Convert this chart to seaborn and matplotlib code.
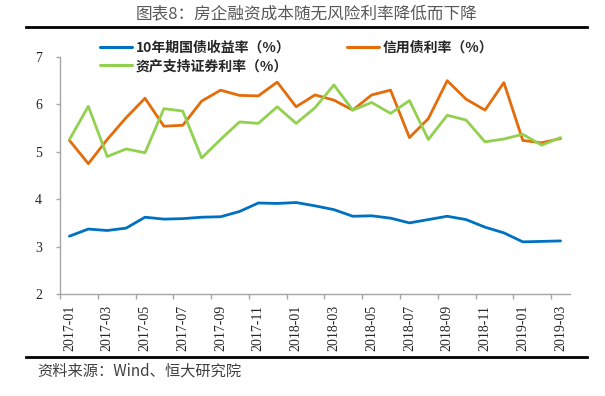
import matplotlib
matplotlib.use("Agg")
import matplotlib.pyplot as plt
import seaborn as sns
from matplotlib.lines import Line2D

# monthly, 2017-01 .. 2019-03
months = [
    "2017-01", "2017-02", "2017-03", "2017-04", "2017-05", "2017-06",
    "2017-07", "2017-08", "2017-09", "2017-10", "2017-11", "2017-12",
    "2018-01", "2018-02", "2018-03", "2018-04", "2018-05", "2018-06",
    "2018-07", "2018-08", "2018-09", "2018-10", "2018-11", "2018-12",
    "2019-01", "2019-02", "2019-03",
]
treasury_10y = [3.22, 3.37, 3.34, 3.39, 3.62, 3.58, 3.59, 3.62, 3.63, 3.74,
                3.92, 3.91, 3.93, 3.86, 3.78, 3.64, 3.65, 3.60, 3.50, 3.57,
                3.64, 3.57, 3.41, 3.29, 3.10, 3.11, 3.12]
credit_bond = [5.24, 4.75, 5.26, 5.72, 6.13, 5.54, 5.56, 6.07, 6.30, 6.19,
               6.18, 6.47, 5.95, 6.20, 6.09, 5.88, 6.20, 6.30, 5.30, 5.70,
               6.50, 6.11, 5.88, 6.46, 5.24, 5.19, 5.28]
abs_rate = [5.26, 5.96, 4.90, 5.06, 4.98, 5.91, 5.86, 4.87, 5.26, 5.63,
            5.60, 5.95, 5.60, 5.93, 6.41, 5.88, 6.04, 5.81, 6.08, 5.26,
            5.77, 5.67, 5.21, 5.27, 5.37, 5.14, 5.30]

labels = ["10年期国债收益率（%）", "信用债利率（%）", "资产支持证券利率（%）"]
colors = ["#0070C0", "#E46C0A", "#92D050"]

sns.set_theme(style="ticks")
plt.rcParams['font.family'] = ['Noto Sans CJK SC', 'DejaVu Sans']

fig = plt.figure(figsize=(6.05, 3.96), dpi=100)

# header / footer rules drawn as the bottom spine of thin empty axes
for y_px in (27, 357):
    rule = fig.add_axes([26 / 605, 1 - y_px / 396, 561 / 605, 1 / 396])
    rule.set_xticks([])
    rule.set_yticks([])
    rule.patch.set_visible(False)
    for s in ["top", "left", "right"]:
        rule.spines[s].set_visible(False)
    rule.spines["bottom"].set_color("black")
    rule.spines["bottom"].set_linewidth(2)

ax = fig.add_axes([60 / 605, 1 - 294 / 396, 510 / 605, 237 / 396])

x = list(range(len(months)))
for series, lab, col in zip([treasury_10y, credit_bond, abs_rate], labels, colors):
    sns.lineplot(x=x, y=series, ax=ax, color=col, linewidth=2.0, label=lab)

ax.set_xlim(-0.5, len(months) - 0.5)
ax.set_ylim(2, 7)

ax.set_xticks(x[::2])
ax.set_xticklabels(months[::2], rotation=90, family="Liberation Serif", fontsize=10)
ax.set_xticks([i - 0.5 for i in x[::2]], minor=True)
ax.tick_params(axis="x", which="major", length=0, pad=8)
ax.tick_params(axis="x", which="minor", length=3.5, width=1, color="#a6a6a6")

ax.set_yticks(range(2, 8))
ax.set_yticklabels([str(v) for v in range(2, 8)], family="Liberation Serif", fontsize=10)
ax.tick_params(axis="y", length=3, width=1, color="#a6a6a6", pad=10)

for s in ["top", "right"]:
    ax.spines[s].set_visible(False)
for s in ["left", "bottom"]:
    ax.spines[s].set_color("#a6a6a6")
    ax.spines[s].set_linewidth(1)

# legend: row1 blue + orange, row2 green
ax.get_legend().remove()
handles = [Line2D([], [], color=c, lw=2.2) for c in colors]
order = [0, 2, 1]
leg = fig.legend([handles[i] for i in order], [labels[i] for i in order],
                 loc="upper left", bbox_to_anchor=(100 / 605, 1 - 41 / 396),
                 ncol=2, frameon=False, borderpad=0, borderaxespad=0,
                 handlelength=2.3, handletextpad=0.25, labelspacing=0.3,
                 columnspacing=4.1,
                 prop={"family": ["Noto Sans CJK SC", "DejaVu Sans"], "weight": "bold", "size": 10})

fig.text(0.506, 1 - 15 / 396, "图表8：房企融资成本随无风险利率降低而下降",
         ha="center", va="center", fontsize=12, color="#595959")
fig.text(37 / 605, 1 - 371 / 396, "资料来源：Wind、恒大研究院",
         ha="left", va="center", fontsize=11, color="#404040", style="italic")

fig.savefig("out.png", dpi=100)
